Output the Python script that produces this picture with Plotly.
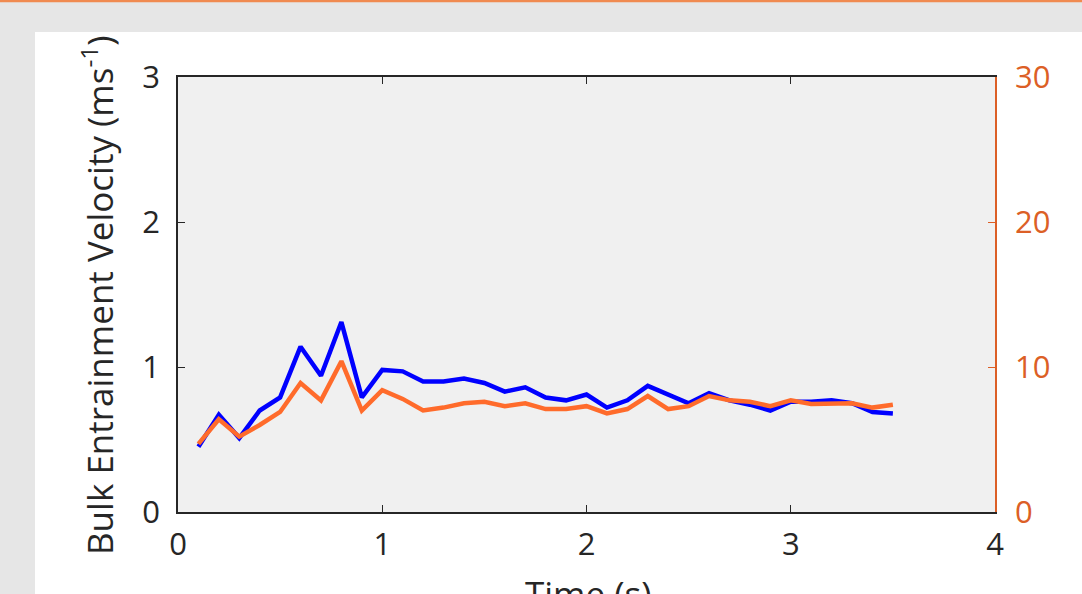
import plotly.graph_objects as go

time_s = [0.1, 0.2, 0.3, 0.4, 0.5, 0.6, 0.7, 0.8, 0.9, 1.0,
          1.1, 1.2, 1.3, 1.4, 1.5, 1.6, 1.7, 1.8, 1.9, 2.0,
          2.1, 2.2, 2.3, 2.4, 2.5, 2.6, 2.7, 2.8, 2.9, 3.0,
          3.1, 3.2, 3.3, 3.4, 3.5]
bulk_velocity = [0.45, 0.67, 0.51, 0.70, 0.79, 1.14, 0.94, 1.31, 0.79, 0.98,
                 0.97, 0.90, 0.90, 0.92, 0.89, 0.83, 0.86, 0.79, 0.77, 0.81,
                 0.72, 0.77, 0.87, 0.81, 0.75, 0.82, 0.77, 0.74, 0.70, 0.76,
                 0.76, 0.77, 0.75, 0.69, 0.68]
right_series = [4.7, 6.4, 5.2, 6.0, 6.9, 8.9, 7.7, 10.4, 7.0, 8.4,
                7.8, 7.0, 7.2, 7.5, 7.6, 7.3, 7.5, 7.1, 7.1, 7.3,
                6.8, 7.1, 8.0, 7.1, 7.3, 8.0, 7.7, 7.6, 7.3, 7.7,
                7.45, 7.5, 7.5, 7.2, 7.4]

x_ticks = [0, 1, 2, 3, 4]
y_ticks = [0, 1, 2, 3]
y2_ticks = [0, 10, 20, 30]
x_title = "Time (s)"
y_title = "Bulk Entrainment Velocity (ms<sup>-1</sup>)"

FONT = "Open Sans"
ORANGE_AX = "#dc5f26"
DARK = "#262626"
TICK_SIZE = 31
TITLE_SIZE = 35

fig = go.Figure()
fig.add_trace(go.Scatter(x=time_s, y=bulk_velocity, mode="lines",
                         line=dict(color="#0000ff", width=4.5), yaxis="y"))
fig.add_trace(go.Scatter(x=time_s, y=right_series, mode="lines",
                         line=dict(color="#ff6b2b", width=4.5), yaxis="y2"))

W, H = 1082, 594
L, R, T, B = 178, 995, 77, 512
pw, ph = R - L, B - T

def px(x):
    return (x - L) / pw

def py(y):
    return (B - y) / ph

fig.update_layout(
    width=W, height=H,
    margin=dict(l=L, r=W - R, t=T, b=H - B, pad=0, autoexpand=False),
    paper_bgcolor="#e6e6e6",
    plot_bgcolor="rgba(0,0,0,0)",
    showlegend=False,
    font=dict(family=FONT, size=TICK_SIZE, color=DARK),
    shapes=[
        dict(type="rect", xref="paper", yref="paper", layer="below",
             x0=px(35), x1=px(W + 5), y0=py(H + 5), y1=py(32),
             fillcolor="white", line=dict(width=0)),
        dict(type="rect", xref="paper", yref="paper", layer="below",
             x0=0, x1=1, y0=0, y1=1,
             fillcolor="#f0f0f0", line=dict(width=0)),
        dict(type="line", xref="paper", yref="paper", layer="below",
             x0=px(0), x1=px(W), y0=py(1), y1=py(1),
             line=dict(color="#f08a50", width=2.5)),
    ],
    annotations=[
        dict(text=x_title, xref="paper", yref="paper", x=px(588), y=py(568),
             xanchor="center", yanchor="top", showarrow=False,
             font=dict(size=TITLE_SIZE, color=DARK, family=FONT)),
        dict(text=y_title, xref="paper", yref="paper", x=px(97), y=py(295),
             xanchor="center", yanchor="middle", showarrow=False, textangle=-90,
             font=dict(size=TITLE_SIZE, color=DARK, family=FONT)),
    ],
    xaxis=dict(range=[0, 4], tickvals=x_ticks, ticks="inside", ticklen=7,
               tickcolor=DARK, showline=True, linecolor=DARK,
               linewidth=1.5, mirror="ticks", showgrid=False, zeroline=False,
               automargin=False, ticklabelstandoff=4,
               tickfont=dict(size=TICK_SIZE, color=DARK)),
    yaxis=dict(range=[0, 3], tickvals=y_ticks, ticks="inside", ticklen=7,
               tickcolor=DARK, showline=True, linecolor=DARK,
               linewidth=1.5, showgrid=False, zeroline=False,
               automargin=False, ticklabelstandoff=10,
               tickfont=dict(size=TICK_SIZE, color=DARK)),
    yaxis2=dict(range=[0, 30], tickvals=y2_ticks, ticks="inside", ticklen=7,
                tickcolor=ORANGE_AX, showline=True, linecolor=ORANGE_AX,
                linewidth=1.5, overlaying="y", side="right", showgrid=False,
                zeroline=False, automargin=False, ticklabelstandoff=12,
                tickfont=dict(size=TICK_SIZE, color=ORANGE_AX)),
)

fig.write_html("out.html")
